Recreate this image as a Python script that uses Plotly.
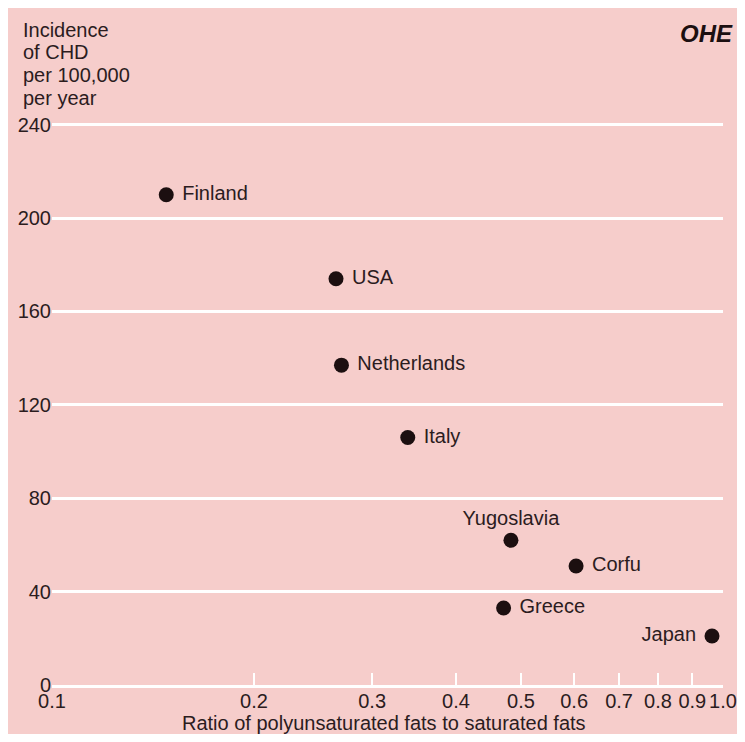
import plotly.graph_objects as go

countries = ["Finland", "USA", "Netherlands", "Italy", "Yugoslavia", "Corfu", "Greece", "Japan"]
ratio = [0.148, 0.265, 0.270, 0.339, 0.483, 0.604, 0.471, 0.963]
incidence = [210, 174, 137, 106, 62, 51, 33, 21]
label_pos = ["middle right", "middle right", "middle right", "middle right",
             "top center", "middle right", "middle right", "middle left"]

x_tickvals = [0.1, 0.2, 0.3, 0.4, 0.5, 0.6, 0.7, 0.8, 0.9, 1.0]
x_ticktext = ["0.1", "0.2", "0.3", "0.4", "0.5", "0.6", "0.7", "0.8", "0.9", "1.0"]
y_tickvals = [0, 40, 80, 120, 160, 200, 240]
y_title_lines = ["Incidence", "of CHD", "per 100,000", "per year"]
x_title = "Ratio of polyunsaturated fats to saturated fats"

FONT = "Liberation Sans, Arial, Helvetica, sans-serif"
TXT = "#2b1c1e"
BG = "#f6cdcb"
FS = 20

W, H = 729, 726
L, R, T, B = 44, 14, 112, 49
PW = W - L - R
PH = H - T - B

fig = go.Figure()
fig.add_trace(go.Scatter(
    x=ratio, y=incidence, mode="markers+text",
    text=[" " + c if p.endswith("right") else (c + " " if p.endswith("left") else c) for c, p in zip(countries, label_pos)],
    textposition=label_pos,
    textfont=dict(family=FONT, size=FS, color=TXT),
    marker=dict(size=15, color="#1c0f10"),
    cliponaxis=False, showlegend=False,
))

annotations = []
for i, line in enumerate(y_title_lines):
    fy = 22 + i * 22.5
    annotations.append(dict(
        text=line, xref="paper", yref="paper",
        x=(13 - L) / PW, y=(H - B - fy) / PH,
        xanchor="left", yanchor="middle", align="left", showarrow=False,
        font=dict(size=FS, color=TXT)))
annotations.append(dict(
    text=x_title, xref="paper", yref="paper",
    x=(376 - L) / PW, y=(H - B - 715) / PH,
    xanchor="center", yanchor="middle", showarrow=False,
    font=dict(size=FS, color=TXT)))
annotations.append(dict(
    text="<b><i>OHE</i></b>", xref="paper", yref="paper",
    x=(727 - L) / PW, y=(H - B - 10) / PH,
    xanchor="right", yanchor="top", showarrow=False,
    font=dict(size=24, color="#1c0f10", family=FONT)))

fig.update_layout(
    width=W, height=H,
    paper_bgcolor=BG, plot_bgcolor=BG,
    margin=dict(l=L, r=R, t=T, b=B),
    font=dict(family=FONT, size=FS, color=TXT),
    xaxis=dict(
        type="log", range=[-1, 0],
        tickvals=x_tickvals, ticktext=x_ticktext,
        ticks="inside", ticklen=12, tickwidth=2, tickcolor="white",
        showgrid=False, zeroline=False,
        showline=True, linecolor="white", linewidth=3,
        tickfont=dict(size=FS, color=TXT),
        ticklabelstandoff=-4, automargin=False, ticklabeloverflow="allow",
    ),
    yaxis=dict(
        range=[0, 242], tickvals=y_tickvals,
        showgrid=True, gridcolor="white", gridwidth=2.5,
        zeroline=False, showline=False, ticks="", automargin=False,
        tickfont=dict(size=FS, color=TXT),
    ),
    annotations=annotations,
)

fig.write_html("out.html")
